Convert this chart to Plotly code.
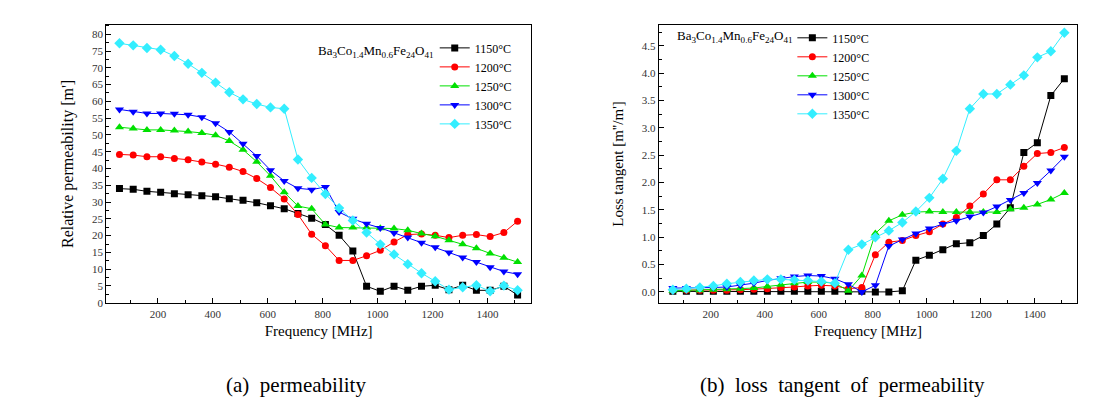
import plotly.graph_objects as go

freq = [60, 110, 160, 210, 260, 310, 360, 410, 460, 510, 560, 610, 660, 710, 760,
        810, 860, 910, 960, 1010, 1060, 1110, 1160, 1210, 1260, 1310, 1360, 1410, 1460, 1510]

series_names = ["1150°C", "1200°C", "1250°C", "1300°C", "1350°C"]

perm_1150 = [34.0, 33.8, 33.2, 32.9, 32.5, 32.2, 31.9, 31.6, 31.0, 30.5, 29.8, 28.9, 28.0, 26.6, 25.2,
             23.3, 20.1, 15.4, 4.9, 3.4, 4.9, 3.7, 4.9, 5.2, 3.9, 5.2, 3.7, 3.7, 4.9, 2.3]
perm_1200 = [44.2, 44.0, 43.5, 43.5, 43.0, 42.6, 41.9, 41.3, 40.4, 39.1, 37.0, 34.3, 30.9, 26.3, 20.4,
             17.0, 12.6, 12.6, 14.0, 15.6, 18.1, 20.3, 20.5, 20.1, 19.4, 20.1, 20.3, 19.7, 20.9, 24.3]
perm_1250 = [52.3, 51.9, 51.5, 51.5, 51.3, 51.0, 50.6, 49.9, 48.2, 45.6, 42.0, 37.8, 32.9, 28.8, 28.0,
             23.3, 22.4, 22.4, 22.4, 22.2, 22.1, 21.6, 20.6, 19.8, 18.6, 17.4, 16.2, 14.7, 13.4, 12.1]
perm_1300 = [57.6, 56.9, 56.4, 56.4, 56.3, 56.0, 55.3, 53.5, 50.9, 47.4, 43.7, 39.5, 36.3, 34.1, 33.7,
             34.5, 27.0, 25.0, 23.5, 22.3, 20.8, 19.4, 17.9, 16.5, 15.0, 13.5, 12.1, 10.6, 9.3, 8.5]
perm_1350 = [77.3, 76.7, 75.9, 75.4, 73.5, 71.2, 68.5, 65.6, 62.7, 60.6, 59.2, 58.2, 57.8, 42.7, 37.2,
             32.4, 28.2, 24.5, 20.9, 17.4, 14.4, 11.5, 8.8, 6.4, 3.9, 4.6, 5.2, 3.4, 5.1, 3.7]

loss_1150 = [0.01, 0.01, 0.01, 0.01, 0.01, 0.01, 0.01, 0.01, 0.01, 0.01, 0.01, 0.01, 0.01, 0.01, 0.01,
             0.0, 0.0, 0.02, 0.58, 0.67, 0.77, 0.88, 0.90, 1.03, 1.24, 1.54, 2.55, 2.73, 3.59, 3.90]
loss_1200 = [0.03, 0.03, 0.03, 0.03, 0.03, 0.04, 0.05, 0.06, 0.08, 0.09, 0.11, 0.12, 0.11, 0.06, 0.08,
             0.68, 0.91, 0.94, 1.03, 1.10, 1.24, 1.36, 1.57, 1.79, 2.05, 2.05, 2.30, 2.53, 2.55, 2.64]
loss_1250 = [0.02, 0.03, 0.03, 0.04, 0.05, 0.06, 0.07, 0.10, 0.13, 0.16, 0.18, 0.18, 0.16, 0.02, 0.30,
             1.07, 1.30, 1.41, 1.46, 1.47, 1.46, 1.46, 1.46, 1.46, 1.46, 1.51, 1.54, 1.60, 1.69, 1.81]
loss_1300 = [0.07, 0.07, 0.07, 0.08, 0.09, 0.12, 0.16, 0.21, 0.25, 0.28, 0.30, 0.29, 0.24, 0.14, 0.0,
             0.12, 0.84, 0.96, 1.07, 1.16, 1.24, 1.30, 1.38, 1.45, 1.56, 1.68, 1.81, 1.99, 2.22, 2.47]
loss_1350 = [0.04, 0.06, 0.08, 0.11, 0.15, 0.18, 0.21, 0.23, 0.23, 0.22, 0.21, 0.19, 0.16, 0.77, 0.87,
             1.00, 1.12, 1.27, 1.47, 1.72, 2.07, 2.58, 3.35, 3.62, 3.62, 3.79, 3.96, 4.29, 4.40, 4.74]

perm_data = [perm_1150, perm_1200, perm_1250, perm_1300, perm_1350]
loss_data = [loss_1150, loss_1200, loss_1250, loss_1300, loss_1350]

colors = ["#000000", "#ff0000", "#00e000", "#0000ff", "#33eeff"]
symbols = ["square", "circle", "triangle-up", "triangle-down", "diamond"]
msizes = [7, 7, 8, 8, 8]

FONT = "Liberation Serif, Times New Roman, serif"
fig = go.Figure()

for i in range(5):
    fig.add_trace(go.Scatter(
        x=freq, y=perm_data[i], name=series_names[i], mode="lines+markers",
        line=dict(color=colors[i], width=1),
        marker=dict(symbol=symbols[i], size=msizes[i], color=colors[i]),
        xaxis="x", yaxis="y", legend="legend"))
for i in range(5):
    fig.add_trace(go.Scatter(
        x=freq, y=loss_data[i], name=series_names[i], mode="lines+markers",
        line=dict(color=colors[i], width=1),
        marker=dict(symbol=symbols[i], size=msizes[i], color=colors[i]),
        xaxis="x2", yaxis="y2", legend="legend2"))

axis_common = dict(showline=True, linecolor="black", linewidth=1.3, mirror=True,
                   ticks="inside", ticklen=5, tickcolor="black", showgrid=False, zeroline=False,
                   tickfont=dict(family=FONT, size=11, color="#333333"))
ydom = [0.267, 0.959]

fig.update_layout(
    width=1097, height=408, margin=dict(l=0, r=0, t=0, b=0),
    paper_bgcolor="white", plot_bgcolor="white",
    font=dict(family=FONT, color="black"),
    xaxis=dict(domain=[0.0896, 0.4768], range=[12, 1559], tick0=0, dtick=200,
               minor=dict(ticks="inside", ticklen=3, dtick=100, tickcolor="black"),
               title=dict(text="Frequency [MHz]", font=dict(family=FONT, size=15), standoff=6),
               anchor="y", **axis_common),
    yaxis=dict(domain=ydom, range=[-0.2, 82.9], tick0=0, dtick=5,
               minor=dict(ticks="inside", ticklen=3, dtick=2.5, tickcolor="black"),
               title=dict(text="Relative permeability [m']", font=dict(family=FONT, size=16), standoff=14),
               anchor="x", **axis_common),
    xaxis2=dict(domain=[0.5934, 0.9745], range=[8.5, 1557], tick0=0, dtick=200,
                minor=dict(ticks="inside", ticklen=3, dtick=100, tickcolor="black"),
                title=dict(text="Frequency [MHz]", font=dict(family=FONT, size=15), standoff=6),
                anchor="y2", **axis_common),
    yaxis2=dict(domain=ydom, range=[-0.21, 4.89], tick0=0, dtick=0.5, tickformat=".1f",
                minor=dict(ticks="inside", ticklen=3, dtick=0.25, tickcolor="black"),
                title=dict(text="Loss tangent [m''/m']", font=dict(family=FONT, size=15), standoff=14),
                anchor="x2", **axis_common),
    legend=dict(x=0.389, y=0.937, xanchor="left", yanchor="top", bgcolor="rgba(0,0,0,0)",
                font=dict(family=FONT, size=12), tracegroupgap=0),
    legend2=dict(x=0.715, y=0.962, xanchor="left", yanchor="top", bgcolor="rgba(0,0,0,0)",
                 font=dict(family=FONT, size=12), tracegroupgap=0),
    showlegend=True,
)

formula = "Ba<sub>3</sub>Co<sub>1.4</sub>Mn<sub>0.6</sub>Fe<sub>24</sub>O<sub>41</sub>"
fig.add_annotation(text=formula, xref="paper", yref="paper", x=428 / 1097, y=1 - 44 / 408,
                   xanchor="right", yanchor="middle", showarrow=False,
                   font=dict(family=FONT, size=13, color="black"))
fig.add_annotation(text=formula, xref="paper", yref="paper", x=787 / 1097, y=1 - 29 / 408,
                   xanchor="right", yanchor="middle", showarrow=False,
                   font=dict(family=FONT, size=13, color="black"))
fig.add_annotation(text="(a)  permeability", xref="paper", yref="paper", x=288 / 1097, y=1 - 382 / 408,
                   xanchor="center", yanchor="middle", showarrow=False,
                   font=dict(family=FONT, size=21, color="black"))
fig.add_annotation(text="(b)  loss  tangent  of  permeability", xref="paper", yref="paper",
                   x=834 / 1097, y=1 - 382 / 408,
                   xanchor="center", yanchor="middle", showarrow=False,
                   font=dict(family=FONT, size=21, color="black"))

fig.write_html("out.html")
